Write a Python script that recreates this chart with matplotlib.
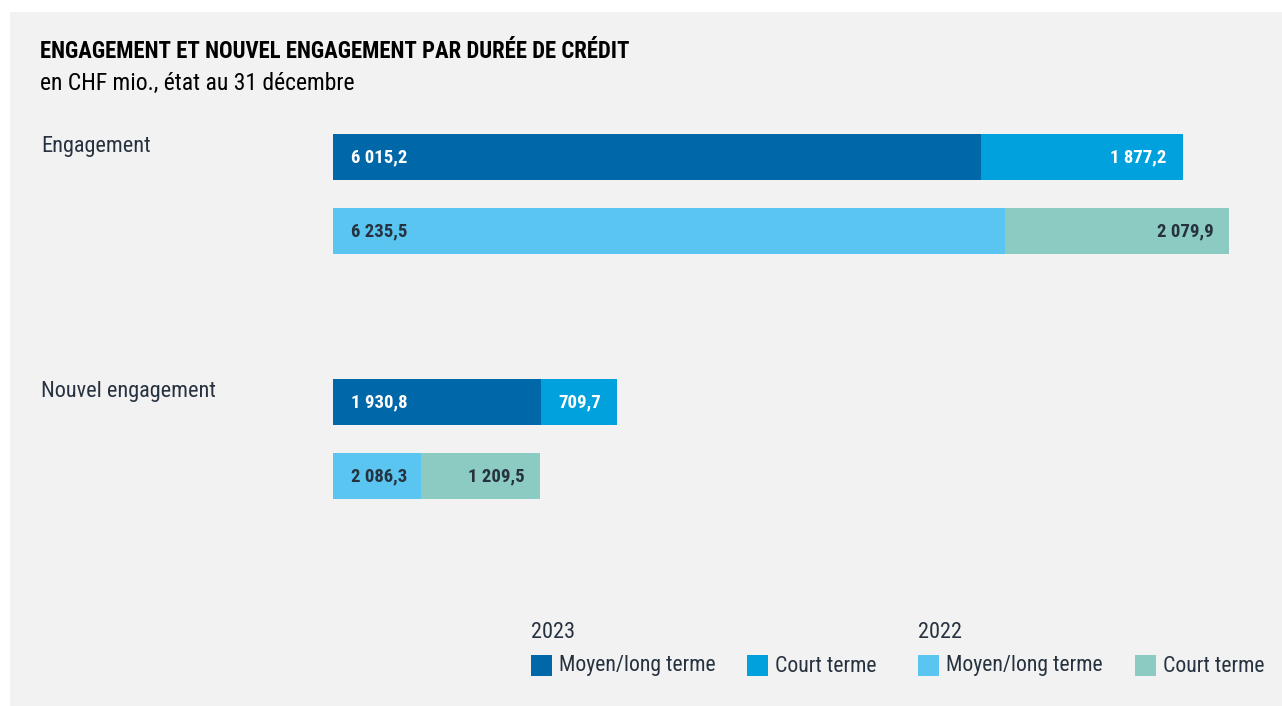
import matplotlib
matplotlib.use("Agg")
import matplotlib.pyplot as plt
from matplotlib import font_manager
from matplotlib.patches import Rectangle

# data (CHF mio.)
categories = ["Engagement", "Nouvel engagement"]
moyen_2023 = [6015.2, 1930.8]
court_2023 = [1877.2, 709.7]
moyen_2022 = [6235.5, 2086.3]
court_2022 = [2079.9, 1209.5]
# the 2022 "Nouvel engagement" bar is drawn shorter in the source than its labels say
moyen_2022_bar = [6235.5, 817.0]
court_2022_bar = [2079.9, 1105.0]

legend_years = ["2023", "2022"]
legend_terms = ["Moyen/long terme", "Court terme"]

C_DARK = "#0067a9"
C_COURT23 = "#00a1dc"
C_MOYEN22 = "#5bc5f1"
C_COURT22 = "#8ccbc2"
C_TEXT = "#26323f"
BG = "#f2f2f2"


def pick_font(names):
    for n in names:
        try:
            font_manager.findfont(n, fallback_to_default=False)
            return n
        except Exception:
            continue
    return "DejaVu Sans"


FONT = pick_font(["Roboto Condensed", "Liberation Sans Narrow", "Liberation Sans", "DejaVu Sans"])
plt.rcParams["font.family"] = [FONT, "DejaVu Sans"]


def fmt(v):
    s = f"{v:,.1f}"
    return s.replace(",", " ").replace(".", ",")


W, H = 1282, 706
fig = plt.figure(figsize=(W / 100, H / 100), dpi=100)
fig.patch.set_facecolor("white")
fig.patches.append(Rectangle((10 / W, 0.0), 1 - 10 / W, 1 - 12 / H,
                             transform=fig.transFigure, facecolor=BG,
                             edgecolor="none", zorder=-10))

# axes placed in pixel space
ax_left, ax_right, ax_top, ax_bot = 333, 1233, 100, 600
ax = fig.add_axes([ax_left / W, 1 - ax_bot / H, (ax_right - ax_left) / W,
                   (ax_bot - ax_top) / H])
ax.set_facecolor("none")
px_per_unit = 0.1077
ax.set_xlim(0, (ax_right - ax_left) / px_per_unit)
gap = 245.0
ax.set_ylim((ax_bot - 157) / gap, (ax_top - 157) / gap)
ax.axis("off")

year_off = 74 / gap
bar_h = 46 / gap
pos_2023 = [i for i in range(len(categories))]
pos_2022 = [i + year_off for i in range(len(categories))]

ax.barh(pos_2023, moyen_2023, height=bar_h, color=C_DARK)
ax.barh(pos_2023, court_2023, left=moyen_2023, height=bar_h, color=C_COURT23)
ax.barh(pos_2022, moyen_2022_bar, height=bar_h, color=C_MOYEN22)
ax.barh(pos_2022, court_2022_bar, left=moyen_2022_bar, height=bar_h, color=C_COURT22)

lab_kw = dict(fontsize=13.5, fontweight="bold", va="center", textcoords="offset points")
for i in range(len(categories)):
    ax.annotate(fmt(moyen_2023[i]), (0, pos_2023[i]), xytext=(13, 0), ha="left",
                color="white", **lab_kw)
    ax.annotate(fmt(court_2023[i]), (moyen_2023[i] + court_2023[i], pos_2023[i]),
                xytext=(-12, 0), ha="right", color="white", **lab_kw)
    ax.annotate(fmt(moyen_2022[i]), (0, pos_2022[i]), xytext=(13, 0), ha="left",
                color=C_TEXT, **lab_kw)
    ax.annotate(fmt(court_2022[i]), (moyen_2022_bar[i] + court_2022_bar[i], pos_2022[i]),
                xytext=(-11, 0), ha="right", color=C_TEXT, **lab_kw)

# category labels
for i, cat in enumerate(categories):
    ax.annotate(cat, (0, pos_2023[i]), xycoords=("figure fraction", "data"),
                xytext=(41 / W, 0), textcoords=("figure fraction", "offset points"),
                va="bottom", ha="left", fontsize=16, color=C_TEXT)

fig.text(40 / W, 1 - 51 / H, "ENGAGEMENT ET NOUVEL ENGAGEMENT PAR DURÉE DE CRÉDIT",
         fontsize=16.4, fontweight="bold", color="black", va="center", ha="left")
fig.text(40 / W, 1 - 83 / H, "en CHF mio., état au 31 décembre",
         fontsize=17, color="black", va="center", ha="left")

# legend drawn by hand
year_x = [531, 918]
term_x = [[531, 747], [918, 1135]]
colors = [[C_DARK, C_COURT23], [C_MOYEN22, C_COURT22]]
for yi, year in enumerate(legend_years):
    fig.text(year_x[yi] / W, 1 - 633 / H, year, fontsize=16, color=C_TEXT,
             va="center", ha="left")
    for ti, term in enumerate(legend_terms):
        x0 = term_x[yi][ti]
        fig.patches.append(Rectangle((x0 / W, 1 - 676 / H), 21 / W, 21 / H,
                                     transform=fig.transFigure,
                                     facecolor=colors[yi][ti], edgecolor="none"))
        fig.text((x0 + 28) / W, 1 - 666 / H, term, fontsize=15.7, color=C_TEXT,
                 va="center", ha="left")

fig.savefig("out.png", dpi=100, facecolor=fig.get_facecolor())
